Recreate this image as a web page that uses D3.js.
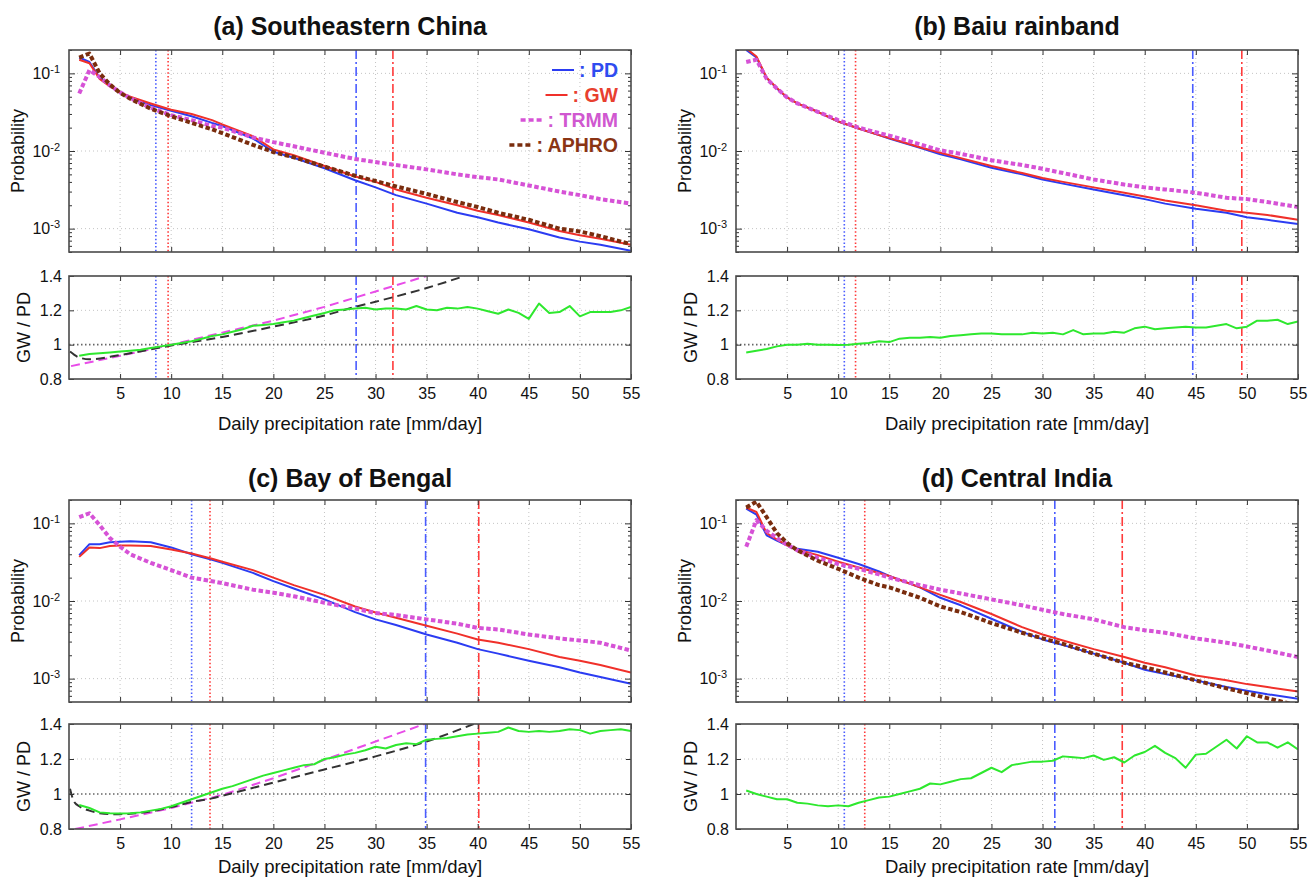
<!DOCTYPE html>
<html>
<head>
<meta charset="utf-8">
<script src="https://cdn.jsdelivr.net/npm/d3@7"></script>
<style>
body { margin: 0; background: #fff; }
text { font-family: "Liberation Sans", Arial, Helvetica, sans-serif; }
</style>
</head>
<body>
<svg id="chart" width="1309" height="879"></svg>
<script>
// x positions (mm/day) where the probability curves were read
const xBins = [1,2,3,4,5,6,8,10,12,14,15,18,20,22,25,28,30,32,35,38,40,42,45,48,50,52,55];
// x positions of the GW/PD ratio (1 mm/day bins)
const xDaily = [1,2,3,4,5,6,7,8,9,10,11,12,13,14,15,16,17,18,19,20,21,22,23,24,25,26,27,28,29,30,
                31,32,33,34,35,36,37,38,39,40,41,42,43,44,45,46,47,48,49,50,51,52,53,54,55];
const xTicks = [5,10,15,20,25,30,35,40,45,50,55];
const probTicks = [0.001, 0.01, 0.1];
const ratioTicks = [0.8, 1, 1.2, 1.4];
const ratioTickLabels = ["0.8", "1", "1.2", "1.4"];

// (a) Southeastern China
const pdA    = [0.16,0.14,0.088,0.069,0.056,0.048,0.039,0.033,0.028,0.023,0.021,0.0145,0.0098,0.0082,0.0060,0.0042,0.0034,0.0027,0.0021,0.0016,0.0014,0.0012,0.00098,0.00077,0.00068,0.00062,0.00052];
const gwA    = [0.15,0.135,0.085,0.068,0.057,0.050,0.041,0.034,0.030,0.025,0.022,0.0155,0.0105,0.0088,0.0064,0.0047,0.0040,0.0032,0.0025,0.0020,0.0017,0.0015,0.0012,0.00093,0.00082,0.00074,0.00062];
const trmmA  = [0.055,0.11,0.09,0.07,0.057,0.048,0.036,0.029,0.025,0.021,0.020,0.015,0.013,0.0115,0.0095,0.0079,0.0072,0.0066,0.0058,0.0050,0.0046,0.0043,0.0036,0.0030,0.0027,0.0024,0.0021];
const aphroA = [0.16,0.18,0.10,0.072,0.056,0.047,0.035,0.028,0.023,0.019,0.017,0.012,0.0097,0.0083,0.0063,0.0048,0.0041,0.0035,0.0028,0.0022,0.0019,0.0016,0.0013,0.0010,0.00092,0.00080,0.00063];
const ratioA = [0.935,0.945,0.95,0.955,0.96,0.965,0.97,0.98,0.99,1.0,1.01,1.02,1.035,1.05,1.06,1.075,1.09,1.11,1.115,1.12,
                1.13,1.14,1.155,1.17,1.185,1.2,1.205,1.21,1.215,1.205,1.21,1.21,1.205,1.225,1.205,1.2,1.215,1.21,1.22,1.21,
                1.195,1.18,1.205,1.185,1.15,1.24,1.185,1.19,1.225,1.165,1.19,1.19,1.19,1.2,1.22];
const ccXA  = [0.2,5,10,15,20,25,30,35];
const ccA   = [0.875,0.935,1.0,1.07,1.14,1.22,1.31,1.40];
const fitXA = [0.1,1,2,5,10,15,20,25,28,30,35,38.7];
const fitA  = [0.96,0.925,0.915,0.94,0.995,1.045,1.105,1.17,1.22,1.25,1.33,1.40];
const marksA = [8.5, 9.7, 28.1, 31.7];

// (b) Baiu rainband
const pdB    = [0.2,0.16,0.087,0.064,0.049,0.041,0.032,0.024,0.0195,0.016,0.0145,0.011,0.0091,0.0078,0.0061,0.0050,0.0043,0.0038,0.0032,0.0027,0.0024,0.0021,0.0018,0.0016,0.0014,0.0013,0.00115];
const gwB    = [0.21,0.165,0.088,0.065,0.049,0.041,0.032,0.024,0.0195,0.016,0.0147,0.0112,0.0095,0.0081,0.0064,0.0052,0.0045,0.0040,0.0034,0.0029,0.0026,0.0023,0.0020,0.0017,0.0016,0.0015,0.0013];
const trmmB  = [0.14,0.15,0.085,0.064,0.049,0.041,0.032,0.025,0.020,0.0170,0.0158,0.0122,0.0102,0.0092,0.0076,0.0066,0.0059,0.0052,0.0043,0.0037,0.0034,0.0032,0.0029,0.0025,0.0024,0.0022,0.0019];
const ratioB = [0.955,0.965,0.975,0.99,1.0,1.0,1.005,1.0,1.0,0.998,1.0,1.005,1.01,1.02,1.015,1.035,1.04,1.04,1.045,1.04,
                1.05,1.055,1.06,1.065,1.065,1.06,1.06,1.06,1.07,1.065,1.07,1.06,1.085,1.06,1.065,1.065,1.075,1.07,1.095,1.105,
                1.09,1.095,1.10,1.105,1.10,1.10,1.11,1.12,1.095,1.105,1.14,1.14,1.145,1.12,1.135];
const marksB = [10.6, 11.7, 44.7, 49.5];

// (c) Bay of Bengal
const pdC    = [0.039,0.054,0.054,0.057,0.058,0.059,0.057,0.049,0.040,0.034,0.031,0.023,0.018,0.0145,0.0105,0.0072,0.0058,0.0049,0.0037,0.0029,0.0024,0.0021,0.0017,0.0014,0.0012,0.00105,0.00086];
const gwC    = [0.037,0.049,0.048,0.051,0.052,0.052,0.051,0.046,0.041,0.035,0.032,0.025,0.020,0.016,0.012,0.0085,0.0071,0.0061,0.0048,0.0038,0.0032,0.0029,0.0024,0.0019,0.0017,0.0015,0.0012];
const trmmC  = [0.12,0.135,0.095,0.065,0.050,0.040,0.031,0.025,0.020,0.018,0.017,0.014,0.0128,0.0115,0.0095,0.0080,0.0070,0.0066,0.0058,0.0051,0.0045,0.0043,0.0037,0.0033,0.0031,0.0029,0.0023];
const ratioC = [0.937,0.92,0.895,0.89,0.888,0.89,0.895,0.905,0.915,0.93,0.95,0.97,0.99,1.01,1.03,1.045,1.065,1.085,1.105,1.12,
                1.135,1.15,1.165,1.17,1.2,1.21,1.225,1.235,1.25,1.27,1.26,1.28,1.29,1.285,1.31,1.315,1.32,1.33,1.34,1.345,
                1.35,1.355,1.38,1.36,1.355,1.36,1.355,1.36,1.37,1.365,1.345,1.36,1.365,1.37,1.36];
const ccXC  = [0.6,5,10,15,20,25,30,34.8];
const ccC   = [0.8,0.855,0.92,0.995,1.09,1.195,1.30,1.40];
const fitXC = [0.1,0.5,1,2,3,4,5,6,8,10,12,14,15,20,25,30,35,39.6];
const fitC  = [1.03,0.955,0.93,0.905,0.89,0.885,0.885,0.887,0.9,0.925,0.955,0.975,0.99,1.065,1.14,1.215,1.30,1.40];
const marksC = [12.0, 13.8, 34.9, 40.1];

// (d) Central India
const pdD    = [0.155,0.13,0.07,0.06,0.052,0.047,0.043,0.036,0.030,0.024,0.021,0.015,0.011,0.0088,0.0059,0.0040,0.0032,0.0027,0.0021,0.0016,0.0013,0.00115,0.00095,0.00078,0.0007,0.00063,0.00055];
const gwD    = [0.16,0.14,0.075,0.062,0.052,0.046,0.039,0.032,0.027,0.023,0.021,0.015,0.012,0.0097,0.0068,0.0046,0.0037,0.0031,0.0024,0.0019,0.0016,0.0014,0.0011,0.00095,0.00085,0.00078,0.00068];
const trmmD  = [0.05,0.11,0.08,0.065,0.053,0.045,0.036,0.030,0.026,0.022,0.020,0.016,0.014,0.0125,0.0105,0.0088,0.0077,0.0068,0.0058,0.0046,0.0042,0.0039,0.0033,0.0029,0.0026,0.0023,0.0019];
const aphroD = [0.16,0.19,0.12,0.075,0.056,0.045,0.033,0.026,0.020,0.016,0.015,0.011,0.0085,0.0072,0.0052,0.0039,0.0033,0.0028,0.0021,0.0016,0.0014,0.0012,0.00095,0.00075,0.00065,0.00056,0.00045];
const ratioD = [1.02,1.0,0.985,0.97,0.97,0.95,0.945,0.935,0.93,0.935,0.93,0.95,0.965,0.98,0.985,1.0,1.015,1.03,1.06,1.055,
                1.07,1.085,1.09,1.12,1.15,1.125,1.165,1.175,1.185,1.185,1.19,1.215,1.21,1.205,1.22,1.195,1.21,1.18,1.22,1.24,
                1.275,1.235,1.205,1.15,1.225,1.23,1.27,1.31,1.26,1.33,1.295,1.295,1.265,1.295,1.255];
const marksD = [10.6, 12.6, 31.2, 37.8];

const legendNames = [": PD", ": GW", ": TRMM", ": APHRO"];

const C = {
  pd: "#2b3cf2", gw: "#f0302a", trmm: "#d652d6", aphro: "#7a2d0e", ratio: "#2ee82e",
  pdMark: "#4a5cff", gwMark: "#ff3b3b", frame: "#4a4a4a", grid: "#c4c4c4"
};
const legendText = ["#2e4cf0", "#e8402f", "#d058d0", "#8a3414"];

const svg = d3.select("#chart");

const panels = [
  { key: "a", title: "(a) Southeastern China", L: 69, R: 631, T: 50, B: 252, T2: 276, B2: 379, titleY: 35, labY: 430,
    pd: pdA, gw: gwA, trmm: trmmA, aphro: aphroA, ratio: ratioA, cc: [ccXA, ccA], fit: [fitXA, fitA], marks: marksA, legend: true },
  { key: "b", title: "(b) Baiu rainband", L: 736, R: 1298, T: 50, B: 252, T2: 276, B2: 379, titleY: 35, labY: 430,
    pd: pdB, gw: gwB, trmm: trmmB, aphro: null, ratio: ratioB, cc: null, fit: null, marks: marksB },
  { key: "c", title: "(c) Bay of Bengal", L: 69, R: 631, T: 500, B: 702, T2: 724, B2: 829, titleY: 487, labY: 873,
    pd: pdC, gw: gwC, trmm: trmmC, aphro: null, ratio: ratioC, cc: [ccXC, ccC], fit: [fitXC, fitC], marks: marksC },
  { key: "d", title: "(d) Central India", L: 736, R: 1298, T: 500, B: 702, T2: 724, B2: 829, titleY: 487, labY: 873,
    pd: pdD, gw: gwD, trmm: trmmD, aphro: aphroD, ratio: ratioD, cc: null, fit: null, marks: marksD }
];

// minor ticks of the log axis
const minorTicks = [];
[-4, -3, -2, -1].forEach(e => {
  for (let k = 2; k <= 9; k++) {
    const v = k * Math.pow(10, e);
    if (v >= 5e-4 && v <= 0.2) minorTicks.push(v);
  }
});

function styleAxis(sel) {
  sel.select(".domain").remove();
  sel.selectAll(".tick line").attr("stroke", "#333").attr("stroke-width", 1);
  sel.selectAll(".tick text").attr("fill", "#111").attr("font-size", 16);
}

function drawPanel(p) {
  const x = d3.scaleLinear().domain([0, 55]).range([p.L, p.R]);
  const yP = d3.scaleLog().domain([5e-4, 0.2]).range([p.B, p.T]);
  const yR = d3.scaleLinear().domain([0.8, 1.4]).range([p.B2, p.T2]);
  const g = svg.append("g");

  const defs = g.append("defs");
  defs.append("clipPath").attr("id", "clipP" + p.key).append("rect")
    .attr("x", p.L).attr("y", p.T).attr("width", p.R - p.L).attr("height", p.B - p.T);
  defs.append("clipPath").attr("id", "clipR" + p.key).append("rect")
    .attr("x", p.L).attr("y", p.T2).attr("width", p.R - p.L).attr("height", p.B2 - p.T2);

  // grid
  const grid = g.append("g").attr("stroke", C.grid).attr("stroke-width", 1).attr("stroke-dasharray", "1,3");
  [[p.T, p.B], [p.T2, p.B2]].forEach(([t, b]) => {
    grid.append("g").selectAll("line").data(xTicks.slice(0, -1)).join("line")
      .attr("x1", d => x(d)).attr("x2", d => x(d)).attr("y1", t).attr("y2", b);
  });
  grid.append("g").selectAll("line").data(probTicks).join("line")
    .attr("x1", p.L).attr("x2", p.R).attr("y1", d => yP(d)).attr("y2", d => yP(d));
  grid.append("line").attr("x1", p.L).attr("x2", p.R).attr("y1", yR(1.2)).attr("y2", yR(1.2));
  g.append("line").attr("x1", p.L).attr("x2", p.R).attr("y1", yR(1)).attr("y2", yR(1))
    .attr("stroke", "#666").attr("stroke-width", 1.6).attr("stroke-dasharray", "1.5,2.5");

  // vertical marks
  const markStyle = [
    { c: C.pdMark, dash: "1.5,2.2" }, { c: C.gwMark, dash: "1.5,2.2" },
    { c: C.pdMark, dash: "9,3,2,3" }, { c: C.gwMark, dash: "9,3,2,3" }
  ];
  [[p.T, p.B], [p.T2, p.B2]].forEach(([t, b]) => {
    g.append("g").selectAll("line").data(p.marks).join("line")
      .attr("x1", d => x(d)).attr("x2", d => x(d)).attr("y1", t).attr("y2", b)
      .attr("stroke", (d, i) => markStyle[i].c)
      .attr("stroke-dasharray", (d, i) => markStyle[i].dash)
      .attr("stroke-width", 1.6);
  });

  // probability curves
  const lineP = d3.line().x(d => x(d[0])).y(d => yP(d[1]));
  const gp = g.append("g").attr("clip-path", `url(#clipP${p.key})`).attr("fill", "none");
  const curves = [
    { v: p.pd, c: C.pd, w: 2, dash: null },
    { v: p.gw, c: C.gw, w: 2, dash: null },
    { v: p.trmm, c: C.trmm, w: 4, dash: "4.5,2.5" },
    { v: p.aphro, c: C.aphro, w: 4, dash: "4.5,2.5" }
  ];
  curves.forEach(s => {
    if (!s.v) return;
    gp.append("path").datum(xBins.map((xv, i) => [xv, s.v[i]]))
      .attr("d", lineP).attr("stroke", s.c).attr("stroke-width", s.w)
      .attr("stroke-dasharray", s.dash).attr("stroke-linejoin", "round");
  });

  // ratio curves
  const lineR = d3.line().x(d => x(d[0])).y(d => yR(d[1]));
  const gr = g.append("g").attr("clip-path", `url(#clipR${p.key})`).attr("fill", "none");
  if (p.cc) {
    gr.append("path").datum(p.cc[0].map((xv, i) => [xv, p.cc[1][i]]))
      .attr("d", lineR).attr("stroke", "#e84ce8").attr("stroke-width", 2).attr("stroke-dasharray", "9,5");
  }
  if (p.fit) {
    gr.append("path").datum(p.fit[0].map((xv, i) => [xv, p.fit[1][i]]))
      .attr("d", d3.line().curve(d3.curveMonotoneX).x(d => x(d[0])).y(d => yR(d[1])))
      .attr("stroke", "#333").attr("stroke-width", 2).attr("stroke-dasharray", "9,5");
  }
  gr.append("path").datum(xDaily.map((xv, i) => [xv, p.ratio[i]]))
    .attr("d", lineR).attr("stroke", C.ratio).attr("stroke-width", 2).attr("stroke-linejoin", "round");

  // x axes (inward ticks)
  g.append("g").attr("transform", `translate(0,${p.T})`)
    .call(d3.axisTop(x).tickValues(xTicks).tickSize(-5).tickFormat("")).call(styleAxis);
  g.append("g").attr("transform", `translate(0,${p.B})`)
    .call(d3.axisBottom(x).tickValues(xTicks).tickSize(-5).tickFormat("")).call(styleAxis);
  g.append("g").attr("transform", `translate(0,${p.T2})`)
    .call(d3.axisTop(x).tickValues(xTicks).tickSize(-5).tickFormat("")).call(styleAxis);
  g.append("g").attr("transform", `translate(0,${p.B2})`)
    .call(d3.axisBottom(x).tickValues(xTicks).tickSize(-5).tickPadding(9)).call(styleAxis);

  // log y axes
  const yl = g.append("g").attr("transform", `translate(${p.L},0)`)
    .call(d3.axisLeft(yP).tickValues(probTicks).tickSize(-6).tickPadding(9)).call(styleAxis);
  yl.selectAll(".tick text").each(function (d) {
    const t = d3.select(this);
    t.text(null);
    t.append("tspan").text("10");
    t.append("tspan").attr("dy", "-0.55em").attr("font-size", 11).text(Math.round(Math.log10(d)));
  });
  g.append("g").attr("transform", `translate(${p.L},0)`)
    .call(d3.axisLeft(yP).tickValues(minorTicks).tickSize(-3).tickFormat("")).call(styleAxis);
  g.append("g").attr("transform", `translate(${p.R},0)`)
    .call(d3.axisRight(yP).tickValues(probTicks).tickSize(-6).tickFormat("")).call(styleAxis);
  g.append("g").attr("transform", `translate(${p.R},0)`)
    .call(d3.axisRight(yP).tickValues(minorTicks).tickSize(-3).tickFormat("")).call(styleAxis);

  // ratio y axes
  g.append("g").attr("transform", `translate(${p.L},0)`)
    .call(d3.axisLeft(yR).tickValues(ratioTicks).tickSize(-5).tickPadding(7)
      .tickFormat((d, i) => ratioTickLabels[i])).call(styleAxis);
  g.append("g").attr("transform", `translate(${p.R},0)`)
    .call(d3.axisRight(yR).tickValues(ratioTicks).tickSize(-5).tickFormat("")).call(styleAxis);

  // frames
  [[p.T, p.B], [p.T2, p.B2]].forEach(([t, b]) => {
    g.append("rect").attr("x", p.L).attr("y", t).attr("width", p.R - p.L).attr("height", b - t)
      .attr("fill", "none").attr("stroke", C.frame).attr("stroke-width", 1.6);
  });

  // labels
  g.append("text").attr("x", (p.L + p.R) / 2).attr("y", p.titleY).attr("text-anchor", "middle")
    .attr("font-size", 25).attr("font-weight", "bold").attr("fill", "#111").text(p.title);
  g.append("text").attr("x", (p.L + p.R) / 2).attr("y", p.labY).attr("text-anchor", "middle")
    .attr("font-size", 18.5).attr("fill", "#111").text("Daily precipitation rate [mm/day]");
  g.append("text").attr("transform", `translate(${p.L - 45},${(p.T + p.B) / 2}) rotate(-90)`)
    .attr("text-anchor", "middle").attr("font-size", 18).attr("fill", "#111").text("Probability");
  g.append("text").attr("transform", `translate(${p.L - 39},${(p.T2 + p.B2) / 2}) rotate(-90)`)
    .attr("text-anchor", "middle").attr("font-size", 18).attr("fill", "#111").text("GW / PD");

  // legend
  if (p.legend) {
    const lg = g.append("g");
    const rows = [
      { c: C.pd, w: 2, dash: null }, { c: C.gw, w: 2, dash: null },
      { c: C.trmm, w: 3.5, dash: "5,3" }, { c: C.aphro, w: 3.5, dash: "5,3" }
    ];
    legendNames.forEach((name, i) => {
      const yy = 77 + i * 25;
      const t = lg.append("text").attr("x", p.R - 13).attr("y", yy).attr("text-anchor", "end")
        .attr("font-size", 19.5).attr("font-weight", "bold").attr("fill", legendText[i]).text(name);
      const w = t.node().getComputedTextLength();
      const x1 = p.R - 13 - w - 5;
      lg.append("line").attr("x1", x1 - 22).attr("x2", x1).attr("y1", yy - 7).attr("y2", yy - 7)
        .attr("stroke", rows[i].c).attr("stroke-width", rows[i].w).attr("stroke-dasharray", rows[i].dash);
    });
  }
}

panels.forEach(drawPanel);
</script>
</body>
</html>
